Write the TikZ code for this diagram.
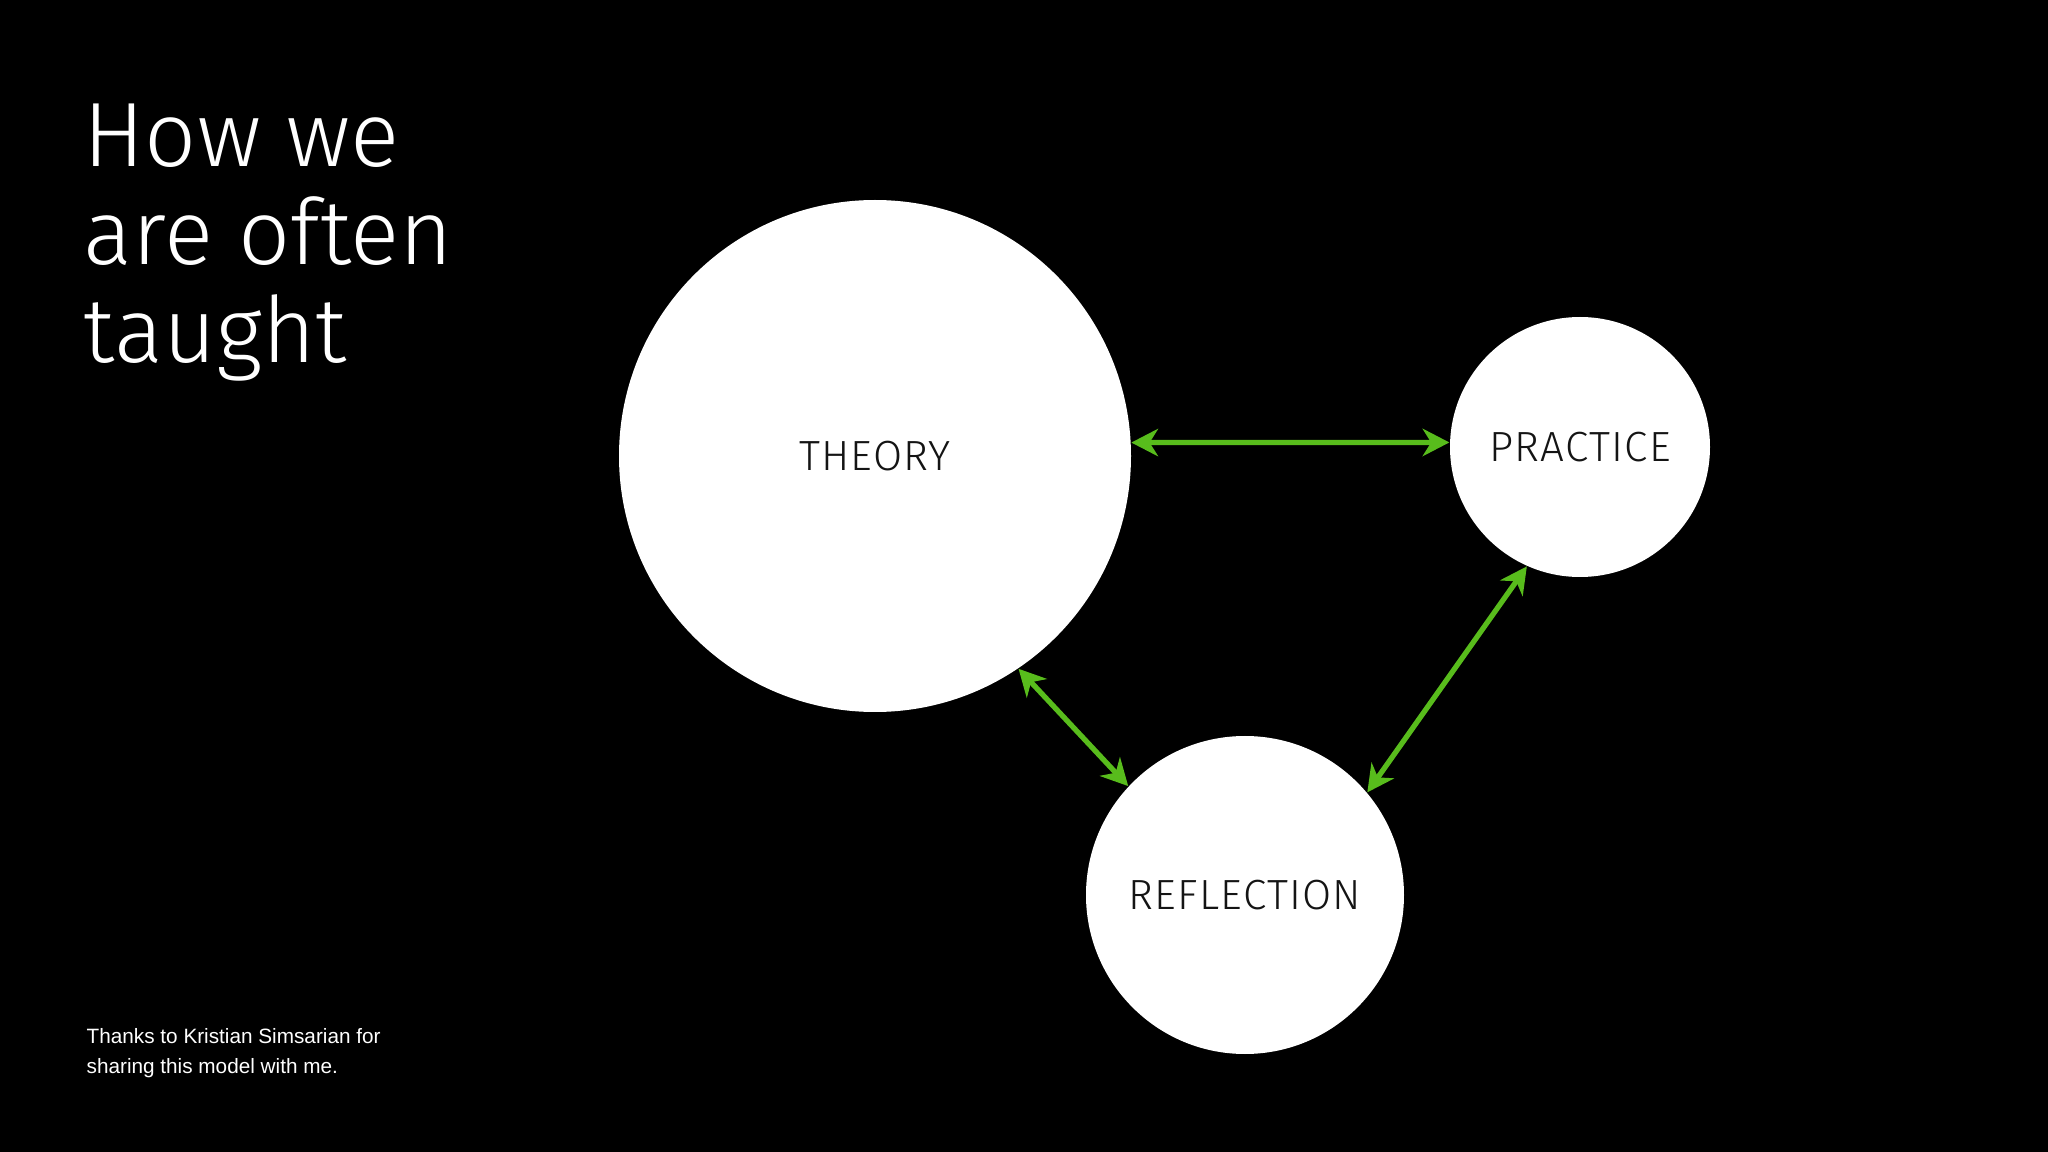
\documentclass[tikz,border=0pt]{standalone}
\usepackage{fontspec}
\usepackage{xcolor}
\usepackage{tikz}
\usetikzlibrary{arrows.meta,positioning}
\setmainfont{Liberation Sans}
\newfontfamily\lightfont{Fira Sans Light}
\newfontfamily\tagfont[LetterSpace=3]{Fira Sans Light}
\definecolor{ktGreen}{RGB}{ 88,188, 28}
\definecolor{ktInk}  {RGB}{ 20, 20, 20}

\begin{document}
\begin{tikzpicture}[
    every node/.style={inner sep=0pt},
    bubble/.style={circle,fill=white,draw=none,inner sep=0pt,
                   font=\tagfont\fontsize{12}{14}\selectfont,text=ktInk},
    loop/.style={{Stealth[length=7.6pt,width=7.8pt,inset=2.4pt]}-{Stealth[length=7.6pt,width=7.8pt,inset=2.4pt]},
                 line width=1.5pt,ktGreen,shorten <=0pt,shorten >=0pt},
    headline/.style={anchor=north west,align=left,text=white,
                     font=\lightfont\fontsize{26}{27.9}\selectfont},
    credit/.style={anchor=north west,align=left,text=white,
                   font=\fontsize{5.9}{8.5}\selectfont}
  ]
  \fill[black] (0,0) rectangle (20.48,-11.52);
  \useasboundingbox (0,0) rectangle (20.48,-11.52);
  % Title and note
  \node[headline] (title) at (0.83,-1.03) {How we\\are often\\taught};
  \node[credit] (note) at (0.86,-10.28) {Thanks to Kristian Simsarian for\\sharing this model with me.};
  % Circles
  \node[bubble,minimum size=5.12cm] (theory)     at (8.75,-4.56)  {THEORY};
  \node[bubble,minimum size=2.60cm] (practice)   at (15.80,-4.47) {PRACTICE};
  \node[bubble,minimum size=3.18cm] (reflection) at (12.45,-8.95) {REFLECTION};
  % Links
  \draw[loop] (theory.3) -- (practice.178);
  \draw[loop] (theory.-56) -- (reflection.137);
  \draw[loop] (practice.-114) -- (reflection.40);
\end{tikzpicture}
\end{document}
